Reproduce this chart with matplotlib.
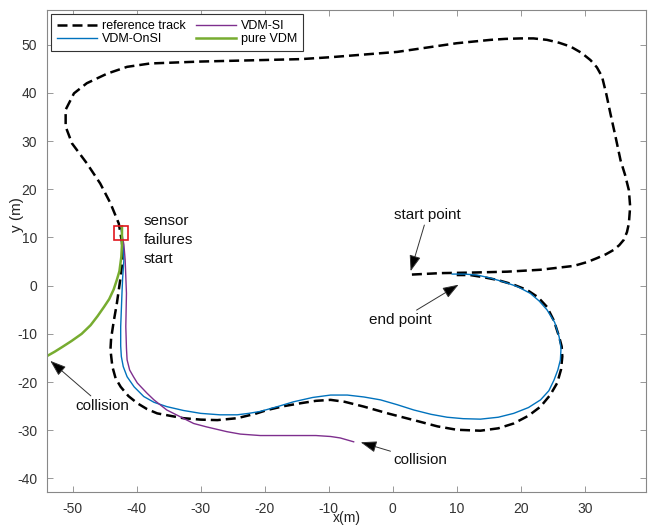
import matplotlib.pyplot as plt

plt.rcParams['font.family'] = ['Liberation Sans', 'DejaVu Sans']
plt.rcParams['axes.unicode_minus'] = False

# reference track (start point -> around the loop -> end point)
ref_x = [3.0, 7.5, 12.0, 17.9, 23.1, 28.3, 30.4, 31.9, 33.3, 34.5, 35.4, 36.1, 36.6, 36.9,
         37.1, 36.9, 36.3, 35.6, 34.8, 34.0, 33.4, 32.7, 31.9, 30.9, 29.5, 27.8, 26.0, 24.1,
         22.0, 20.0, 17.6, 15.3, 10.0, 0.7, -9.7, -14.4, -30.0, -37.9, -41.5,
         -44.6, -47.8, -49.8, -51.1, -51.1, -50.1, -47.8, -45.7, -44.1, -42.8, -42.3,
         -42.2, -42.5, -43.1, -43.6, -44.0, -44.1, -43.8, -43.3, -42.5, -41.3, -39.9,
         -38.4, -36.8, -34.8, -32.7, -30.0, -27.4, -24.3, -21.5, -19.6, -17.0, -14.4,
         -12.0, -9.7, -7.5, -4.5, -0.5, 3.3, 7.0, 10.0, 13.7, 16.5, 18.9, 21.2, 23.1,
         24.6, 25.7, 26.3, 26.5, 26.4, 26.0, 25.2, 24.1, 22.7, 21.0, 18.7, 16.3, 14.0,
         12.1, 10.0]
ref_y = [2.3, 2.6, 2.7, 2.9, 3.3, 4.1, 4.9, 5.7, 6.5, 7.4, 8.4, 9.5, 11.1, 12.9,
         16.4, 19.8, 23.0, 26.0, 31.0, 35.8, 39.6, 43.4, 45.3, 46.8, 48.3, 49.6, 50.4, 51.0,
         51.3, 51.3, 51.2, 51.0, 50.3, 48.5, 47.4, 47.0, 46.5, 46.1, 45.4,
         44.0, 42.0, 39.9, 36.5, 33.0, 29.5, 25.4, 21.2, 17.1, 12.9, 9.0,
         5.5, 1.9, -3.7, -7.5, -11.0, -13.3, -16.8, -19.2, -21.0, -22.9, -24.4,
         -25.6, -26.5, -27.0, -27.5, -27.8, -27.9, -27.5, -26.6, -25.8, -25.0, -24.4,
         -23.9, -23.7, -24.1, -25.1, -26.6, -27.9, -29.2, -29.9, -30.1, -29.6, -28.6, -27.0, -25.1,
         -22.7, -20.2, -17.4, -14.7, -12.6, -10.6, -7.3, -4.4, -2.4, -0.9, 0.3, 1.2, 1.8,
         2.2, 2.2]

# VDM-OnSI
onsi_x = [-42.4, -42.1, -42.0, -42.2, -42.3, -42.5, -42.5, -42.4, -42.1, -41.5, -40.4,
          -38.9, -37.3, -35.3, -32.7, -30.0, -27.0, -24.3, -22.5, -20.7, -18.0, -15.5,
          -12.5, -9.7, -7.1, -4.5, -1.9, 0.7, 3.3, 6.0, 8.5, 11.0, 13.7, 16.5, 18.9,
          21.2, 23.1, 24.4, 25.2, 25.8, 26.2, 26.3, 26.0, 25.3, 24.1, 22.9, 21.5, 19.5,
          17.3, 15.2, 13.2, 11.2, 9.3]
onsi_y = [11.5, 8.0, 5.3, 1.5, -1.6, -8.5, -12.5, -14.7, -16.8, -18.9, -21.0,
          -23.0, -24.2, -25.1, -25.9, -26.5, -26.8, -26.8, -26.5, -26.1, -25.1, -24.1,
          -23.2, -22.7, -22.7, -23.1, -23.7, -24.7, -25.8, -26.7, -27.3, -27.6, -27.7, -27.3, -26.5,
          -25.3, -23.7, -21.8, -19.6, -17.5, -15.4, -13.0, -10.6, -7.6, -5.0, -3.2, -1.6, -0.2,
          0.8, 1.6, 2.2, 2.4, 2.4]

# VDM-SI
si_x = [-42.4, -42.0, -41.8, -41.6, -41.7, -41.6, -41.5, -41.1, -40.5, -39.9, -38.4,
        -37.3, -35.3, -33.2, -31.1, -29.1, -25.9, -23.8, -20.7, -15.5, -12.0, -9.7,
        -8.2, -6.1]
si_y = [11.5, 8.5, 5.3, -1.6, -8.5, -13.0, -15.4, -17.5, -18.9, -20.2, -22.3,
        -23.7, -25.8, -27.2, -28.6, -29.3, -30.3, -30.8, -31.1, -31.1, -31.1, -31.3,
        -31.6, -32.4]

# pure VDM
pure_x = [-42.3, -42.3, -42.4, -42.7, -43.1, -43.6, -44.3, -45.1, -46.1, -47.2, -48.6,
          -50.2, -51.6, -52.8, -54.0]
pure_y = [12.3, 8.5, 6.0, 3.0, 1.2, -0.8, -2.8, -4.4, -6.3, -8.2, -10.0,
          -11.5, -12.7, -13.7, -14.6]

fail_x, fail_y = -42.4, 11.0

fig = plt.figure(figsize=(6.54, 5.25), dpi=100)
ax = fig.add_axes([0.072, 0.063, 0.916, 0.918])

ax.plot(ref_x, ref_y, color='k', lw=1.8, linestyle=(0, (4, 2)), label='reference track')
ax.plot(onsi_x, onsi_y, color='#0072BD', lw=1.0, label='VDM-OnSI')
ax.plot(si_x, si_y, color='#7E2F8E', lw=1.0, label='VDM-SI')
ax.plot(pure_x, pure_y, color='#77AC30', lw=1.8, label='pure VDM')
ax.plot(fail_x, fail_y, 's', ms=10.5, mfc='none', mec='#E0161E', mew=1.2)

ax.set_xlim(-54, 39.6)
ax.set_ylim(-42.8, 57.2)
ax.set_xticks([-50, -40, -30, -20, -10, 0, 10, 20, 30])
ax.set_yticks([-40, -30, -20, -10, 0, 10, 20, 30, 40, 50])

for s in ax.spines.values():
    s.set_color('#888888')
    s.set_linewidth(0.8)
ax.tick_params(direction='in', length=4, width=0.6, colors='#888888', labelcolor='#333333',
               labelsize=10, top=True, right=True, pad=7)

ax.set_xlabel('x(m)', fontsize=10, color='#222222', labelpad=-3)
ax.set_ylabel('y (m)', fontsize=11, color='#222222')
ax.yaxis.set_label_coords(-0.038, 0.575)

arrow = dict(arrowstyle='-|>,head_length=0.7,head_width=0.25', fc='k', ec='#333333',
             lw=0.7, mutation_scale=14, shrinkA=0, shrinkB=0)
fs = 11
ax.text(-38.9, 9.4, 'sensor\nfailures\nstart', fontsize=fs, va='center', ha='left',
        linespacing=1.45, color='#111111')
ax.annotate('start point', xy=(2.8, 3.0), xytext=(5.4, 14.6), fontsize=fs,
            ha='center', va='center', arrowprops=arrow, color='#111111')
ax.annotate('end point', xy=(10.3, 0.2), xytext=(1.2, -7.1), fontsize=fs,
            ha='center', va='center', arrowprops=arrow, color='#111111')
ax.annotate('collision', xy=(-53.5, -15.6), xytext=(-45.4, -24.9), fontsize=fs,
            ha='center', va='center', arrowprops=arrow, color='#111111')
ax.annotate('collision', xy=(-5.0, -32.5), xytext=(4.3, -36.2), fontsize=fs,
            ha='center', va='center', arrowprops=arrow, color='#111111')

leg = ax.legend(ncol=2, loc='upper left', fontsize=9, handlelength=3.2,
                borderaxespad=0.3, borderpad=0.5, labelspacing=0.1,
                columnspacing=0.8, handletextpad=0.4, fancybox=False, framealpha=1)
leg.get_frame().set_edgecolor('#333333')
leg.get_frame().set_linewidth(0.8)

fig.savefig('out.png', dpi=100)
